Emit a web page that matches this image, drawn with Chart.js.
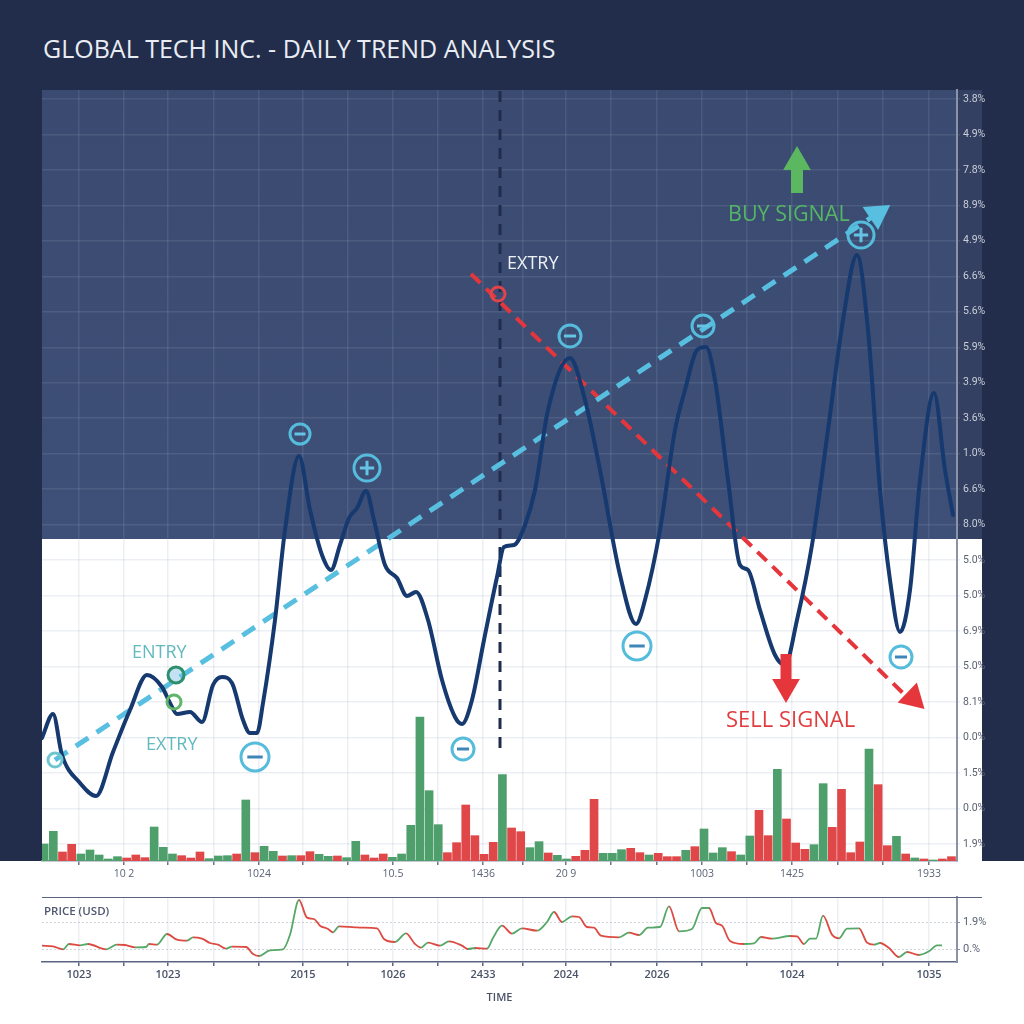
<!DOCTYPE html>
<html>
<head>
<meta charset="utf-8">
<title>Global Tech Inc. - Daily Trend Analysis</title>
<script src="https://cdn.jsdelivr.net/npm/chart.js@4"></script>
<style>
  html, body { margin: 0; padding: 0; background: #fff; }
  body { width: 1024px; height: 1024px; position: relative; overflow: hidden; font-family: "Open Sans", sans-serif; }
  #band { position: absolute; left: 0; top: 0; width: 1024px; height: 861px; background: #222d4c; }
  h1 { position: absolute; left: 43px; top: 30px; margin: 0; font-size: 25px; line-height: 36px; font-weight: 400; color: #e9edf3; white-space: nowrap; }
  #mainChart { position: absolute; left: 0; top: 0; }
  #priceChart { position: absolute; left: 0; top: 880px; }
  #priceTop { position: absolute; left: 42px; top: 897px; width: 940px; height: 1px; background: #5a6480; }
  #priceLabel { position: absolute; left: 44px; top: 903px; font-size: 11.5px; line-height: 16px; font-weight: 600; color: #4f5670; }
</style>
</head>
<body>
<div id="band"><h1>GLOBAL TECH INC. - DAILY TREND ANALYSIS</h1></div>
<canvas id="mainChart" width="1024" height="905"></canvas>
<canvas id="priceChart" width="1024" height="144"></canvas>
<div id="priceTop"></div>
<div id="priceLabel">PRICE (USD)</div>
<script>
// values
const trendX = [0,11,20,38,54,71,88,105,120,128,135,148,160,171,180,190,201,208,215,221,233,243,257,268,280,289,298,307,315,324,332,343,355,365,374,386,400,413,420,430,442,455,462,472,483,493,506,528,543,558,578,594,603,618,633,643,655,664,673,686,698,706,718,733,743,755,770,786,801,815,826,838,848,858,868,878,892,903,911];
const trendY = [123,147,106,78,65,109,151,186,174,158,147,149,139,176,184,178,141,128,128,158,241,331,405,351,306,291,316,343,353,370,341,296,283,265,269,241,181,144,137,161,221,284,314,316,336,371,451,503,461,391,286,237,261,331,431,471,511,514,481,381,296,291,251,206,196,241,316,431,541,606,531,371,281,229,271,381,468,391,346];

const volumes = [51,89,27,50,21,33,18,6,13,9,18,10,102,41,21,16,9,27,7,15,16,21,183,25,44,29,15,16,16,28,20,14,15,10,59,18,9,21,11,21,107,432,211,109,25,55,168,76,20,56,259,99,88,40,58,24,17,6,14,32,185,23,23,34,38,25,18,23,13,13,32,43,96,24,40,28,18,75,152,76,275,126,54,35,49,232,101,215,25,57,336,229,46,74,21,9,6,3,6,13];
const volumeSides = 'GGRRGGGGGR' + 'RRGGGRRRGG' + 'GRGRGGRGRR' + 'GGRGGRRRGG' + 'GGGGRRRRRR' + 'GRRGGRGGRR' + 'RGGGRRGRRR' + 'GRGGGRGGRR' + 'GRRRGGRRRR' + 'GRRGRGRGRR';

const priceX = [0,11,21,27,38,46,64,75,83,93,104,107,115,125,135,145,151,160,168,176,184,190,204,211,217,228,241,248,257,265,272,278,286,291,297,313,321,335,342,353,364,373,379,386,398,407,420,426,433,445,451,460,470,480,495,505,512,520,530,537,545,552,559,577,587,597,606,618,627,637,650,660,667,674,680,688,702,712,719,730,748,755,762,768,774,781,790,797,805,817,825,832,838,847,857,865,877,887,895,900];
const priceY = [49,47,38,54,50,54,38,52,51,44,45,54,52,84,67,64,74,70,57,52,40,46,45,24,18,35,38,82,186,133,129,109,99,89,107,104,103,101,69,60,86,54,43,58,49,62,49,39,42,40,72,109,85,101,94,120,150,120,137,135,105,103,79,74,88,81,103,105,167,92,99,162,162,117,109,63,54,56,75,70,78,77,54,70,70,139,82,71,100,101,58,52,57,42,15,30,21,32,50,50];

const gridStops = [37,82,126,172,217,261,306,351,396,441,481,524,569,615,660,705,750,796,841,887];
const mainTickLabels = ['','10 2','','','1024','','','10.5','','1436','','20 9','','','1003','','1425','','','1933'];
const priceTickLabels = ['1023','','1023','','','2015','','1026','','2433','','2024','','2026','','','1024','','','1035'];
const yTickLabels = ['3.8%','4.9%','7.8%','8.9%','4.9%','6.6%','5.6%','5.9%','3.9%','3.6%','1.0%','6.6%','8.0%','5.0%','5.0%','6.9%','5.0%','8.1%','0.0%','1.5%','0.0%','1.9%'];
const priceYStops = [37, 119];
const priceYLabels = ['0.%', '1.9%'];

// trend lines and signal arrows
const buyTrendX = [13, 830], buyTrendY = [101, 644];
const sellTrendX = [429, 863], sellTrendY = [587, 166];
const markerLineX = [458, 458], markerLineY = [113, 771];
const buyShaftX = [755, 755], buyShaftY = [668, 698];
const sellShaftX = [744, 744], sellShaftY = [207, 181];
const headX = [835, 871, 755, 744], headY = [647, 163, 699, 174];
const headAngle = [56, 134, 0, 180];
const headSize = [16, 16, 16, 16];
const headColor = ['#58bfe0', '#e5363c', '#5cb860', '#e5363c'];

// ringed signals
const ringX = [13,134,132,213,421,258,325,528,661,819,595,859,456];
const ringY = [101,186,159,104,112,427,393,525,535,626,215,204,567];
const ringSize = [7,8,7,14,11,10,13,11,11,13,14,11,7];
const ringSign = ['','','','-','-','-','+','-','-','+','-','-',''];
const ringColor = ['#6fc6cf','#2e8f6c','#5fb56a','#55bcdc','#55bcdc','#55bcdc','#55bcdc','#55bcdc','#55bcdc','#55bcdc','#55bcdc','#55bcdc','#e0454b'];
const ringFill = ['transparent','rgba(120,190,230,0.45)','transparent','transparent','transparent','transparent','transparent','transparent','transparent','transparent','transparent','transparent','transparent'];

const noteText = ['EXTRY','BUY SIGNAL','SELL SIGNAL','ENTRY','EXTRY'];
const noteX = [465,686,684,90,104];
const noteY = [597,646,140,208,116];
const noteSize = [18,21.5,22,18,18];
const noteColor = ['#eef1f6','#55b565','#e23c3f','#62b9c0','#62b9c0'];

const panelFloor = 322;   // value where the dark upper panel stops
const gridColor = 'rgba(150,165,190,0.18)';
const axisFont = '"Liberation Sans Narrow", Roboto, sans-serif';

function pairs(xs, ys) {
  return xs.map((x, i) => ({ x: x, y: ys[i] }));
}

const signed = ringX.map((x, i) => i).filter(i => ringSign[i] !== '');

// dark panel behind the grid, plus strip under the right hand labels
const panelPlugin = {
  id: 'panel',
  beforeDraw(chart) {
    const ctx = chart.ctx, area = chart.chartArea;
    const floor = chart.scales.y.getPixelForValue(panelFloor);
    ctx.save();
    ctx.fillStyle = '#334061';
    ctx.fillRect(area.right, area.top, 25, floor - area.top);
    ctx.fillStyle = '#fff';
    ctx.fillRect(area.right, floor, 25, area.bottom - floor);
    ctx.fillRect(area.left, floor, area.right - area.left, area.bottom - floor);
    const g = ctx.createLinearGradient(0, area.top, 0, floor);
    g.addColorStop(0, '#3a4a70');
    g.addColorStop(1, '#3f5078');
    ctx.fillStyle = g;
    ctx.fillRect(area.left, area.top, area.right - area.left, floor - area.top);
    ctx.restore();
  }
};

const notesPlugin = {
  id: 'notes',
  afterDatasetsDraw(chart) {
    const ctx = chart.ctx, xs = chart.scales.x, ys = chart.scales.y;
    ctx.save();
    ctx.textBaseline = 'middle';
    noteText.forEach((t, i) => {
      ctx.font = noteSize[i] + 'px "Open Sans", sans-serif';
      ctx.fillStyle = noteColor[i];
      ctx.fillText(t, xs.getPixelForValue(noteX[i]), ys.getPixelForValue(noteY[i]));
    });
    ctx.restore();
  }
};

Chart.defaults.font.family = '"Open Sans", sans-serif';
Chart.defaults.animation = false;

new Chart(document.getElementById('mainChart'), {
  type: 'bar',
  plugins: [panelPlugin, notesPlugin],
  data: {
    datasets: [
      { type: 'scatter', label: 'signs', xAxisID: 'x', yAxisID: 'y',
        data: pairs(signed.map(i => ringX[i]), signed.map(i => ringY[i])),
        pointStyle: signed.map(i => ringSign[i] === '+' ? 'cross' : 'line'),
        pointRadius: signed.map(i => ringSize[i] * 0.55),
        pointBorderWidth: 3,
        pointBorderColor: signed.map(i => ringY[i] > panelFloor ? '#63c4e4' : '#3f86b8') },
      { type: 'scatter', label: 'rings', xAxisID: 'x', yAxisID: 'y',
        data: pairs(ringX, ringY),
        pointStyle: 'circle',
        pointRadius: ringSize,
        pointBorderWidth: 3,
        pointBorderColor: ringColor,
        pointBackgroundColor: ringFill },
      { type: 'scatter', label: 'arrow heads', xAxisID: 'x', yAxisID: 'y',
        data: pairs(headX, headY),
        pointStyle: 'triangle',
        pointRadius: headSize,
        pointRotation: headAngle,
        pointBorderWidth: 0,
        pointBackgroundColor: headColor },
      { type: 'line', label: 'buy shaft', xAxisID: 'x', yAxisID: 'y', data: pairs(buyShaftX, buyShaftY),
        borderColor: '#5cb860', borderWidth: 12, pointRadius: 0 },
      { type: 'line', label: 'sell shaft', xAxisID: 'x', yAxisID: 'y', data: pairs(sellShaftX, sellShaftY),
        borderColor: '#e5363c', borderWidth: 11, pointRadius: 0 },
      { type: 'line', label: 'price', xAxisID: 'x', yAxisID: 'y', data: pairs(trendX, trendY),
        borderColor: '#16396f', borderWidth: 4, pointRadius: 0, cubicInterpolationMode: 'monotone', borderJoinStyle: 'round', borderCapStyle: 'round' },
      { type: 'line', label: 'buy trend', xAxisID: 'x', yAxisID: 'y', data: pairs(buyTrendX, buyTrendY),
        borderColor: '#58bfe0', borderWidth: 5, borderDash: [15, 10], pointRadius: 0 },
      { type: 'line', label: 'sell trend', xAxisID: 'x', yAxisID: 'y', data: pairs(sellTrendX, sellTrendY),
        borderColor: '#e5363c', borderWidth: 4, borderDash: [13, 8], pointRadius: 0 },
      { type: 'line', label: 'marker', xAxisID: 'x', yAxisID: 'y', data: pairs(markerLineX, markerLineY),
        borderColor: '#1f2c4d', borderWidth: 3, borderDash: [11, 8], pointRadius: 0 },
      { type: 'bar', label: 'volume', xAxisID: 'xBar', yAxisID: 'yVol',
        data: volumes.map((v, i) => ({ x: i, y: v })),
        barThickness: 8,
        backgroundColor: volumes.map((v, i) => volumeSides[i] === 'G' ? '#4f9f6c' : '#e04749') }
    ]
  },
  options: {
    responsive: false,
    layout: { padding: { left: 42, right: 27, top: 90, bottom: 0 } },
    plugins: { legend: { display: false }, tooltip: { enabled: false } },
    scales: {
      x: {
        type: 'linear', min: 0, max: 915, offset: false,
        afterBuildTicks: s => { s.ticks = gridStops.map(v => ({ value: v })); },
        afterFit: s => { s.height = 44; },
        grid: { offset: false, color: gridColor, tickColor: '#6d7589', tickLength: 4, lineWidth: 1.5 },
        border: { color: '#8a93a8', width: 1.5 },
        ticks: { autoSkip: false, maxRotation: 0, padding: 3, color: '#5b6375', font: { size: 10.5 },
          callback: (v, i) => mainTickLabels[i] }
      },
      y: {
        type: 'linear', position: 'right', min: 0, max: 771,
        afterBuildTicks: s => { s.ticks = yTickLabels.map((l, k) => ({ value: 17 + 35.48 * k })); },
        afterFit: s => { s.width = 40; },
        grid: { color: gridColor, tickLength: 3, lineWidth: 1.5 },
        border: { color: '#8a93a8', width: 2 },
        ticks: { autoSkip: false, padding: 3, font: { size: 10.5, family: axisFont },
          color: c => c.tick.value > panelFloor ? '#c9ced9' : '#5a6272',
          callback: (v, i) => yTickLabels[yTickLabels.length - 1 - i] }
      },
      xBar: { type: 'linear', display: false, min: 0.2, max: 100.04, offset: false },
      yVol: { type: 'linear', display: false, min: 0, max: 2313 }
    }
  }
});

new Chart(document.getElementById('priceChart'), {
  type: 'line',
  data: {
    datasets: [{
      label: 'price', data: pairs(priceX, priceY),
      borderWidth: 1.8, pointRadius: 0, cubicInterpolationMode: 'monotone',
      borderColor: '#55a868',
      segment: { borderColor: c => c.p1.parsed.y >= c.p0.parsed.y ? '#55a868' : '#dc4a42' }
    }]
  },
  options: {
    responsive: false,
    layout: { padding: { left: 42, right: 27, top: 17, bottom: 20 } },
    plugins: { legend: { display: false }, tooltip: { enabled: false } },
    scales: {
      x: {
        type: 'linear', min: 0, max: 915,
        afterBuildTicks: s => { s.ticks = gridStops.map(v => ({ value: v })); },
        afterFit: s => { s.height = 42; },
        grid: { color: gridColor, tickColor: '#5a6480', tickLength: 4, lineWidth: 1.5 },
        border: { color: '#5a6480', width: 1.5 },
        ticks: { autoSkip: false, maxRotation: 0, padding: 2, color: '#4a5268', font: { size: 11, weight: '600' },
          callback: (v, i) => priceTickLabels[i] },
        title: { display: true, text: 'TIME', color: '#4a5268', font: { size: 11, weight: '600' }, padding: 0 }
      },
      y: {
        type: 'linear', position: 'right', min: 0, max: 195,
        afterBuildTicks: s => { s.ticks = priceYStops.map(v => ({ value: v })); },
        afterFit: s => { s.width = 40; },
        grid: { color: 'rgba(120,130,150,0.35)', tickColor: '#8a93a8', tickLength: 3 },
        border: { color: '#8a93a8', width: 2, dash: [2, 2] },
        ticks: { autoSkip: false, padding: 3, color: '#5a6272', font: { size: 11, family: axisFont },
          callback: (v, i) => priceYLabels[i] }
      }
    }
  }
});
</script>
</body>
</html>
